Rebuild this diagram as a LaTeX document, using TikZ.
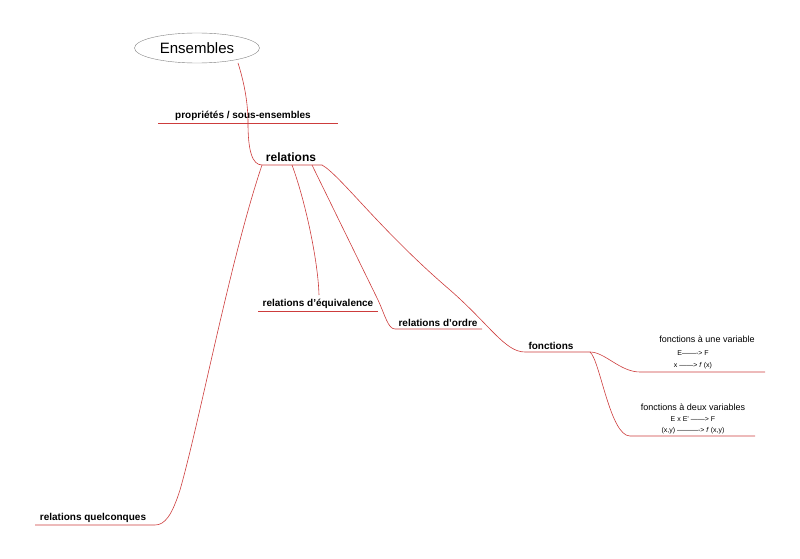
\documentclass[tikz,border=0pt]{standalone}
\usepackage{fontspec}
\setmainfont{Liberation Sans}
\usetikzlibrary{shapes.geometric}
\definecolor{branchred}{RGB}{205,60,60}

\begin{document}
\begin{tikzpicture}[x=1pt,y=-1pt,
       topic/.style={font=\bfseries\fontsize{10}{12}\selectfont,anchor=south,inner sep=1pt},
       detail/.style={font=\fontsize{7}{8}\selectfont,inner sep=0pt},
       branch/.style={draw=branchred,line width=0.6pt}]
    \useasboundingbox (0,0) rectangle (800,559);
    \node[draw=gray,ellipse,minimum width=125pt,minimum height=30pt,
          font=\fontsize{15}{18}\selectfont] (ens) at (197,48) {Ensembles};
    % underlines
    \coordinate (pA) at (158,123); \coordinate (pB) at (338,123);
    \coordinate (rA) at (262,165); \coordinate (rB) at (322,165);
    \coordinate (rq) at (35,525); \coordinate (rqB) at (155,525);
    \coordinate (eqA) at (258,311); \coordinate (eqB) at (378,311);
    \coordinate (orA) at (395,329); \coordinate (orB) at (482,329);
    \coordinate (fA) at (525,352); \coordinate (fB) at (590,352);
    \coordinate (f1A) at (640,372); \coordinate (f1B) at (765,372);
    \coordinate (f2A) at (630,436); \coordinate (f2B) at (755,436);
    \node[topic] (prop) at (243,122) {propriétés / sous-ensembles};
    \node[topic,font=\bfseries\fontsize{12}{14}\selectfont] (rel) at (291,163) {relations};
    \node[topic] (quel) at (93,524) {relations quelconques};
    \node[topic] (equiv) at (318,310) {relations d'équivalence};
    \node[topic] (ordre) at (438,328) {relations d'ordre};
    \node[topic] (fonc) at (551,351) {fonctions};
    \node[detail,font=\fontsize{9}{10}\selectfont] (une) at (707,339) {fonctions à une variable};
    \node[detail] (une1) at (693,353) {E-------> F};
    \node[detail] (une2) at (693,366) {x ------> \textit{f} (x)};
    \node[detail,font=\fontsize{9}{10}\selectfont] (deux) at (693,407) {fonctions à deux variables};
    \node[detail] (deux1) at (693,419) {E x E' ------> F};
    \node[detail] (deux2) at (693,431) {(x,y) ----------> \textit{f} (x,y)};
    % branches
    \draw[branch] (pA) -- (pB);
    \draw[branch] (238,63) .. controls (245,85) and (248,105) .. (248,123)
        .. controls (248,150) and (252,165) .. (rA) -- (rB);
    \draw[branch] (rA) .. controls (230,260) and (200,420) .. (180,490)
        .. controls (172,515) and (165,525) .. (rqB) -- (rq);
    \draw[branch] (292,165) .. controls (305,200) and (318,260) .. (319,295);
    \draw[branch] (eqA) -- (eqB);
    \draw[branch] (312,165) -- (378,300) .. controls (385,315) and (388,329) .. (orA) -- (orB);
    \draw[branch] (rB) .. controls (340,175) and (380,230) .. (450,290)
        .. controls (490,325) and (505,352) .. (fA) -- (fB);
    \draw[branch] (fB) .. controls (605,352) and (620,372) .. (f1A) -- (f1B);
    \draw[branch] (fB) .. controls (600,360) and (610,436) .. (f2A) -- (f2B);
\end{tikzpicture}
\end{document}
